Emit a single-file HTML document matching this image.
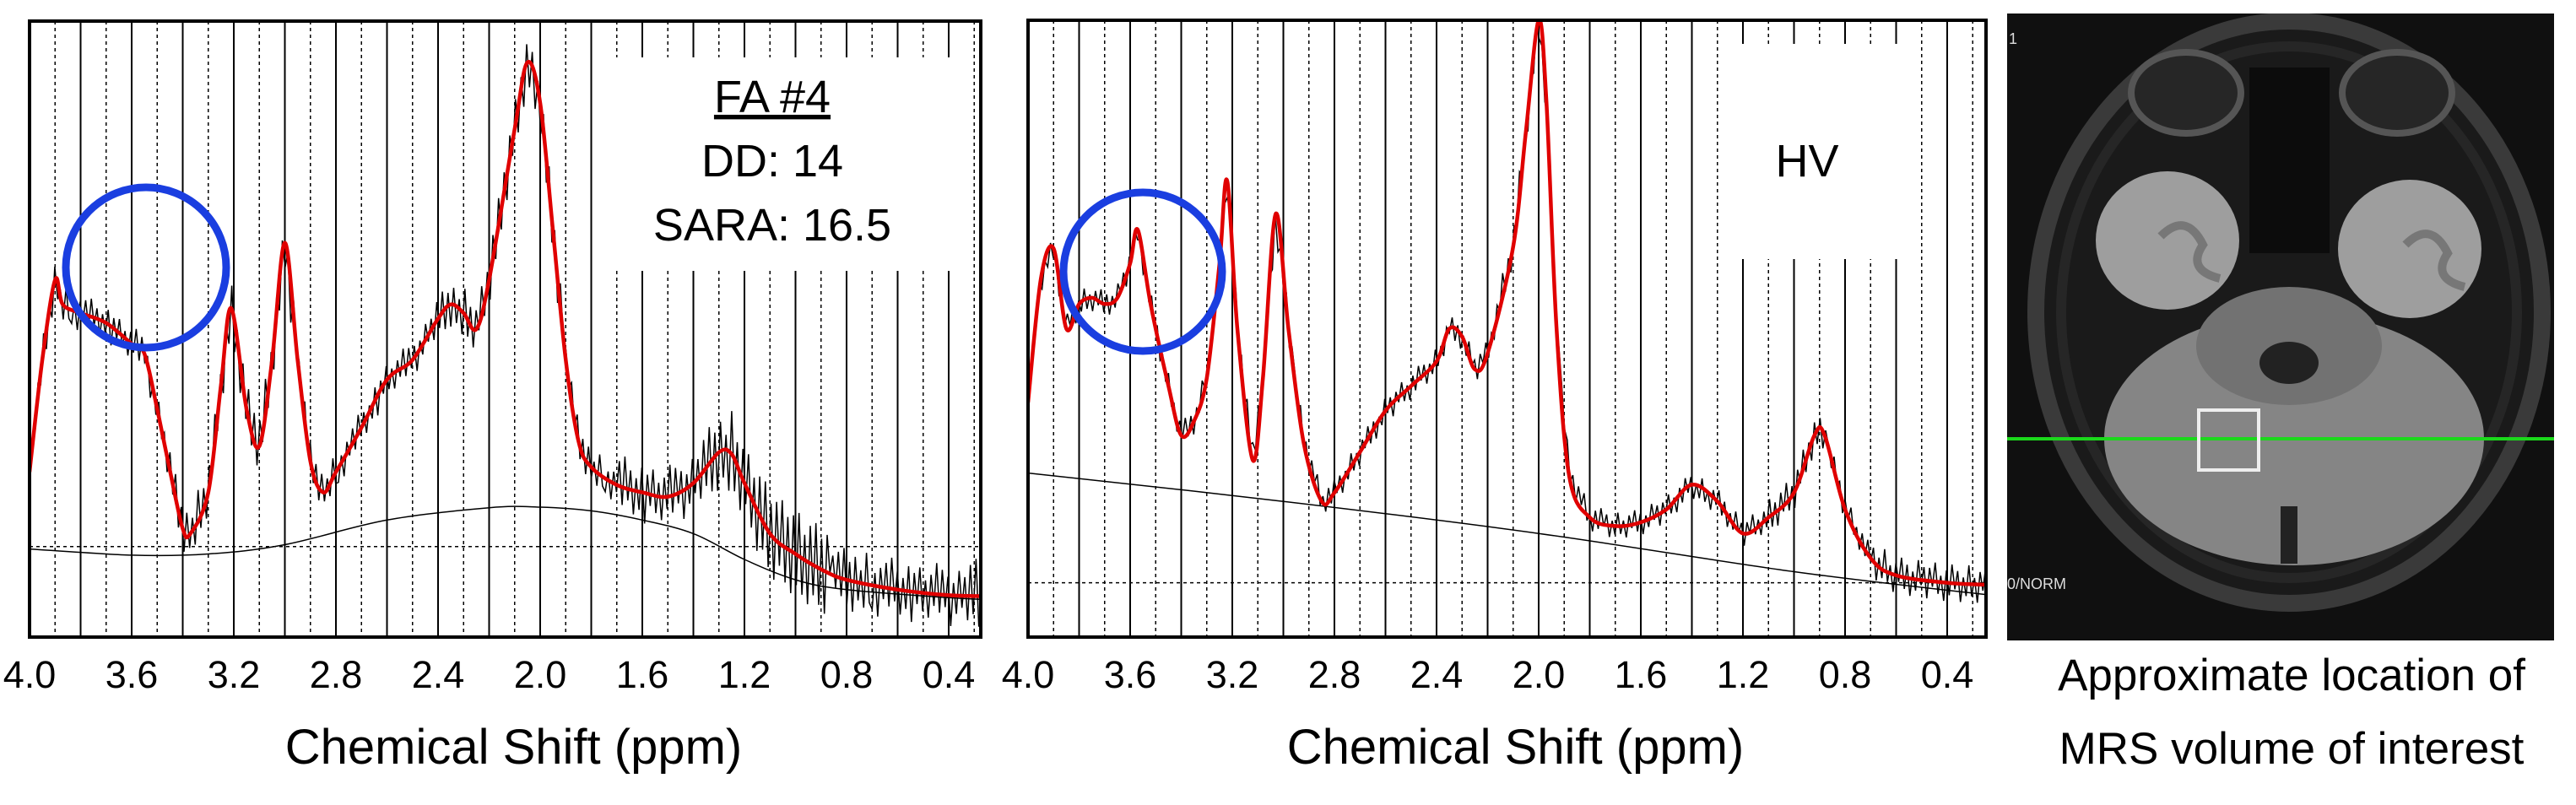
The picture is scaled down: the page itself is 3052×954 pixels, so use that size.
<!DOCTYPE html>
<html><head><meta charset="utf-8">
<style>
html,body{margin:0;padding:0;background:#fff;}
svg{display:block;}
text{font-family:"Liberation Sans","DejaVu Sans",sans-serif;}
</style></head>
<body>
<svg id="root" width="3052" height="954" viewBox="0 0 3052 954" xmlns="http://www.w3.org/2000/svg">
<defs>
<clipPath id="clipL"><rect x="35" y="25" width="1127" height="730"/></clipPath>
<clipPath id="clipM"><rect x="1218" y="24" width="1135" height="731"/></clipPath>
<clipPath id="clipImg"><rect x="2378" y="16" width="648" height="743"/></clipPath>
</defs>
<g id="chartL"></g>
<g id="chartM"></g>
<g id="mri" clip-path="url(#clipImg)">
  <rect x="2378" y="16" width="648" height="743" fill="#101010"/>
  <ellipse cx="2712" cy="370" rx="300" ry="345" fill="#1a1a1a" stroke="#3a3a3a" stroke-width="20"/>
  <ellipse cx="2712" cy="370" rx="270" ry="315" fill="none" stroke="#262626" stroke-width="12"/>
  <ellipse cx="2590" cy="110" rx="65" ry="48" fill="#262626" stroke="#555" stroke-width="8"/>
  <ellipse cx="2840" cy="110" rx="65" ry="48" fill="#262626" stroke="#555" stroke-width="8"/>
  <rect x="2665" y="80" width="95" height="220" fill="#0c0c0c"/>
  <ellipse cx="2568" cy="285" rx="85" ry="82" fill="#9e9e9e"/>
  <ellipse cx="2855" cy="295" rx="85" ry="82" fill="#9e9e9e"/>
  <path d="M2560 280 q30 -30 50 10 q-20 30 20 40 M2850 290 q30 -30 50 10 q-20 30 20 40" stroke="#777" stroke-width="10" fill="none"/>
  <ellipse cx="2718" cy="520" rx="225" ry="150" fill="#858585"/>
  <ellipse cx="2712" cy="410" rx="110" ry="70" fill="#727272"/>
  <ellipse cx="2712" cy="430" rx="35" ry="25" fill="#222"/>
  <path d="M2712 600 L2712 668" stroke="#222" stroke-width="20"/>
  <line x1="2378" y1="520" x2="3026" y2="520" stroke="#1bd81b" stroke-width="4"/>
  <rect x="2605" y="486" width="71" height="71" fill="none" stroke="#eee" stroke-width="4"/>
  <text x="2380" y="52" fill="#ddd" font-size="18">1</text>
  <text x="2378" y="698" fill="#ddd" font-size="18">0/NORM</text>
</g>
<text x="2715" y="818" text-anchor="middle" font-size="53">Approximate location of</text>
<text x="2715" y="905" text-anchor="middle" font-size="53">MRS volume of interest</text>
</svg>
<script>
// ---- Data ----
var tickLabels = ["4.0","3.6","3.2","2.8","2.4","2.0","1.6","1.2","0.8","0.4"];
var tickValues = [4.0,3.6,3.2,2.8,2.4,2.0,1.6,1.2,0.8,0.4];

var faFitPpm = [4.0,3.95,3.9,3.87,3.8,3.7,3.6,3.55,3.5,3.45,3.4,3.37,3.3,3.25,3.21,3.15,3.1,3.05,3.0,2.95,2.9,2.85,2.8,2.7,2.6,2.5,2.4,2.35,2.3,2.25,2.2,2.1,2.05,2.0,1.95,1.9,1.85,1.8,1.7,1.6,1.5,1.4,1.3,1.25,1.2,1.1,1.0,0.9,0.8,0.6,0.4,0.2];
var faFitVal = [26.8,45,58,54,52.6,51,47.6,46,37,27,17.6,16.8,23.5,41,53.4,37,31,45,64,45,28.5,23.5,26.8,34,41.8,45,51.7,54,52.6,50,58,82.5,93.3,86.7,66,45,31.8,27.6,24.7,23.5,22.8,25,30,29.7,25,16.8,13.5,11,9.3,7.7,6.8,6.6];
var faBasePpm = [4.0,3.6,3.3,3.0,2.6,2.2,2.0,1.8,1.6,1.4,1.2,1.0,0.8,0.4,0.2];
var faBaseVal = [14.3,13.3,13.5,15,19,21,21.1,20.5,19,16.8,12.6,9.3,7.7,6.4,6];
var faResidual = [0,3,-2,4,-3,5,-4,3,-5,4,-3,2,-4,5,-3,-4,2,-5,3,-2,4,-3,5,-2,3,-4,2,-3,4,-5,3,-2,4,-3,2,-4,3,-2,5,-3,4,-2,3,-5,2,-3,4,-2,3,-4,5,-3,6,-5,4,-6,5,-4,3,-6,7,-5,4,-6,5,-3,6,-5,4,-7,6,-5,7,-6,5,-7,6,-4,7,-6,5,-7,6,-5,7,-6,4,-7,6,-5,7,-6,5,-7,6];

var hvFitPpm = [4.0,3.95,3.9,3.85,3.8,3.75,3.7,3.65,3.6,3.57,3.52,3.45,3.4,3.35,3.3,3.25,3.22,3.18,3.12,3.08,3.03,2.98,2.92,2.85,2.8,2.7,2.6,2.5,2.4,2.35,2.3,2.25,2.2,2.1,2.05,2.0,1.97,1.93,1.88,1.8,1.7,1.6,1.5,1.4,1.3,1.2,1.1,1.0,0.92,0.88,0.8,0.7,0.6,0.4,0.25];
var hvFitVal = [38,58,63,50,54,55,54,55,60.6,66,54,40.7,32.7,35,42,60.6,74,50,28.7,42,68.6,50,31.4,22,23.4,30,36.7,40.7,44.7,50,48.7,43.4,46,63.3,82,100,87,50,26,19.4,18,18.6,20.7,24.7,22,16.8,19.4,23.4,32.7,32.7,20.7,12.8,10,8.8,8.5];
var hvBasePpm = [4.0,3.0,2.0,1.0,0.25];
var hvBaseVal = [26.6,22,16.8,10.6,6.9];
var hvResidual = [1,-2,3,-1,2,-3,2,-1,3,-2,1,-3,2,-2,3,-1,2,-3,1,-2,3,-2,1,-3,2,-1,3,-2,2,-3,1,-2,3,-1,2,-3,2,-1,3,-2,1,-3,2,-2,3,-1,2,-3,1,-2,3,-2,1,-3,2,-1,3,-2,2,-3,1,-2,3,-1,2,-3,2,-1,3,-2,1,-3,2,-2,4,-3,2,-4,3,-2,4,-3,2,-4,3,-2,4,-3,2,-4,3,-2,4,-3,2];

var NS = "http://www.w3.org/2000/svg";
function mk(tag, attrs, parent){ var e=document.createElementNS(NS,tag); for(var k in attrs) e.setAttribute(k,attrs[k]); if(parent) parent.appendChild(e); return e; }
function interp(px, py, x){
  for(var i=0;i<px.length-1;i++){
    var a=px[i], b=px[i+1];
    if((x<=a && x>=b)){ var t=(a-x)/(a-b); return py[i]+(py[i+1]-py[i])*t; }
  }
  return x>px[0]?py[0]:py[py.length-1];
}
function smoothPath(pts){
  var d="M"+pts[0][0].toFixed(1)+" "+pts[0][1].toFixed(1);
  for(var i=0;i<pts.length-1;i++){
    var p0=pts[i-1]||pts[i], p1=pts[i], p2=pts[i+1], p3=pts[i+2]||p2;
    var c1x=p1[0]+(p2[0]-p0[0])/6, c1y=p1[1]+(p2[1]-p0[1])/6;
    var c2x=p2[0]-(p3[0]-p1[0])/6, c2y=p2[1]-(p3[1]-p1[1])/6;
    d+=" C"+c1x.toFixed(1)+" "+c1y.toFixed(1)+" "+c2x.toFixed(1)+" "+c2y.toFixed(1)+" "+p2[0].toFixed(1)+" "+p2[1].toFixed(1);
  }
  return d;
}

function drawChart(g, cfg){
  var L=cfg.left, R=cfg.right, T=cfg.top, B=cfg.bottom;
  var pxPerPpm=cfg.pxPerPpm;
  function X(p){ return L+(4.0-p)*pxPerPpm; }
  function Y(v){ return B-v/100*(B-T); }
  var ppmMin = 4.0-(R-L)/pxPerPpm;

  var grid=mk("g",{},g);
  
  
  for(var k=1;k<40;k++){
    var p=4.0-k*0.1; if(p<ppmMin) break;
    var x=X(p);
    var ln=mk("line",{x1:x,y1:T,x2:x,y2:B,stroke:"#000","stroke-width":k%2===0?2:1.5},grid);
    if(k%2===1) ln.setAttribute("stroke-dasharray","4 4");
    
    
  }
  var hl=mk("line",{x1:L,y1:Y(cfg.hDotted),x2:R,y2:Y(cfg.hDotted),stroke:"#000","stroke-width":1.5,"stroke-dasharray":"4 4"},g);
  
  

  var box=mk("rect",{x:cfg.box[0],y:cfg.box[1],width:cfg.box[2],height:cfg.box[3],fill:"#fff"},g);
  
  

  var clip=mk("g",{"clip-path":cfg.clip},g);
  var bpts=[]; for(var i=0;i<cfg.basePpm.length;i++) bpts.push([X(cfg.basePpm[i]),Y(cfg.baseVal[i])]);
  var bl=mk("path",{d:smoothPath(bpts),fill:"none",stroke:"#000","stroke-width":1.5},clip);
  
  
  var step=0.011;
  var n=Math.floor((4.0-ppmMin)/step);
  var d="";
  for(var j=0;j<=n;j++){
    var pp=4.0-j*step;
    var r=cfg.residual[j%cfg.residual.length];
    var v=interp(cfg.fitPpm,cfg.fitVal,pp)+r*cfg.noiseScale(pp);
    d+=(j?" L":"M")+X(pp).toFixed(1)+" "+Y(v).toFixed(1);
  }
  var dl=mk("path",{d:d,fill:"none",stroke:"#000","stroke-width":1.5},clip);
  
  
  var fpts=[]; for(var i2=0;i2<cfg.fitPpm.length;i2++) fpts.push([X(cfg.fitPpm[i2]),Y(cfg.fitVal[i2])]);
  var fl=mk("path",{d:smoothPath(fpts),fill:"none",stroke:"#e00000","stroke-width":4.5},clip);
  
  

  var fr=mk("rect",{x:L,y:T,width:R-L,height:B-T,fill:"none",stroke:"#000","stroke-width":4},g);
  
  

  var c=mk("ellipse",{cx:cfg.circle[0],cy:cfg.circle[1],rx:cfg.circle[2],ry:cfg.circle[2],fill:"none",stroke:"#1a3ee0","stroke-width":9},g);
  
  

  for(var t=0;t<tickValues.length;t++){
    var tx=mk("text",{x:X(tickValues[t]),y:B+60,"text-anchor":"middle","font-size":45},g);
    tx.textContent=tickLabels[t];
    
    
  }
  var title=mk("text",{x:(L+R)/2+10,y:905,"text-anchor":"middle","font-size":58},g);
  title.textContent="Chemical Shift (ppm)";
  
  

  for(var a=0;a<cfg.notes.length;a++){
    var nt=mk("text",{x:cfg.notes[a][1],y:cfg.notes[a][2],"text-anchor":"middle","font-size":54},g);
    nt.textContent=cfg.notes[a][0];
    if(cfg.notes[a][3]) nt.setAttribute("text-decoration","underline");
    
    
  }
}

drawChart(document.getElementById("chartL"),{
  left:35,right:1162,top:25,bottom:755,pxPerPpm:302.5,hDotted:14.7,
  box:[705,68,430,253],clip:"url(#clipL)",
  fitPpm:faFitPpm,fitVal:faFitVal,basePpm:faBasePpm,baseVal:faBaseVal,
  residual:faResidual,noiseScale:function(p){return p<1.7?1.0:0.6;},
  circle:[173,317,95],
  notes:[["FA #4",915,133,true],["DD: 14",915,209,false],["SARA: 16.5",915,285,false]]
});
drawChart(document.getElementById("chartM"),{
  left:1218,right:2353,top:24,bottom:755,pxPerPpm:302.5,hDotted:8.8,
  box:[2053,52,214,255],clip:"url(#clipM)",
  fitPpm:hvFitPpm,fitVal:hvFitVal,basePpm:hvBasePpm,baseVal:hvBaseVal,
  residual:hvResidual,noiseScale:function(p){return p<0.7?1.0:0.7;},
  circle:[1354,322,94],
  notes:[["HV",2141,209,false]]
});
</script>
</body></html>
